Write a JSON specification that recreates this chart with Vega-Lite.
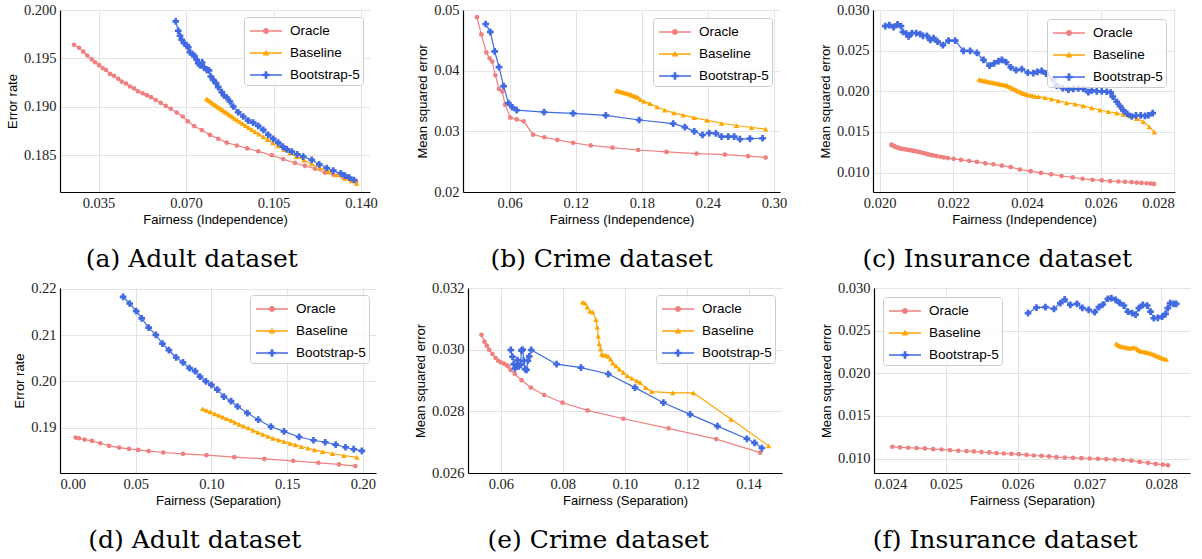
{
"$schema": "https://vega.github.io/schema/vega-lite/v6.json",
"background": "white",
"padding": {"left": 6, "top": 2, "right": 2, "bottom": 2},
"config": {
  "view": {"stroke": null},
  "axis": {"domain": true, "domainColor": "#000000", "domainWidth": 1.2, "ticks": false, "grid": true, "gridColor": "#e3e3e3", "gridWidth": 1, "labelFont": "Liberation Serif", "labelFontSize": 14.5, "labelColor": "#222222", "labelPadding": 4, "titleFont": "Liberation Sans", "titleFontSize": 13, "titleFontWeight": "normal", "titleColor": "#000000", "titlePadding": 4},
  "legend": {"title": null, "padding": 3, "rowPadding": 4, "symbolSize": 484, "symbolOpacity": 1, "symbolStrokeWidth": 0, "labelFont": "Liberation Sans", "labelFontSize": 13.5, "labelOffset": 21, "labelColor": "#000000", "fillColor": "rgba(255,255,255,0.8)", "strokeColor": "#cccccc", "cornerRadius": 3},
  "title": {"orient": "bottom", "frame": "bounds", "font": "DejaVu Serif", "fontSize": 25, "fontWeight": "normal", "color": "#000000", "offset": 20, "anchor": "middle"}
},
"datasets": {
"legend": [{"method": "Oracle"}, {"method": "Baseline"}, {"method": "Bootstrap-5"}],
"a": [
{"method":"Oracle","fair":0.0252,"err":0.1964},{"method":"Oracle","fair":0.0272,"err":0.1961},{"method":"Oracle","fair":0.0289,"err":0.1957},{"method":"Oracle","fair":0.0305,"err":0.1953},{"method":"Oracle","fair":0.0323,"err":0.1949},{"method":"Oracle","fair":0.0336,"err":0.1946},{"method":"Oracle","fair":0.0352,"err":0.1943},{"method":"Oracle","fair":0.0367,"err":0.1940},{"method":"Oracle","fair":0.0380,"err":0.1938},{"method":"Oracle","fair":0.0396,"err":0.1934},{"method":"Oracle","fair":0.0412,"err":0.1932},{"method":"Oracle","fair":0.0429,"err":0.1929},{"method":"Oracle","fair":0.0443,"err":0.1926},{"method":"Oracle","fair":0.0460,"err":0.1924},{"method":"Oracle","fair":0.0476,"err":0.1921},{"method":"Oracle","fair":0.0492,"err":0.1919},{"method":"Oracle","fair":0.0508,"err":0.1916},{"method":"Oracle","fair":0.0527,"err":0.1914},{"method":"Oracle","fair":0.0543,"err":0.1912},{"method":"Oracle","fair":0.0560,"err":0.1910},{"method":"Oracle","fair":0.0579,"err":0.1907},{"method":"Oracle","fair":0.0599,"err":0.1904},{"method":"Oracle","fair":0.0619,"err":0.1901},{"method":"Oracle","fair":0.0639,"err":0.1898},{"method":"Oracle","fair":0.0663,"err":0.1894},{"method":"Oracle","fair":0.0687,"err":0.1890},{"method":"Oracle","fair":0.0707,"err":0.1885},{"method":"Oracle","fair":0.0733,"err":0.1880},{"method":"Oracle","fair":0.0763,"err":0.1876},{"method":"Oracle","fair":0.0796,"err":0.1871},{"method":"Oracle","fair":0.0829,"err":0.1867},{"method":"Oracle","fair":0.0863,"err":0.1863},{"method":"Oracle","fair":0.0903,"err":0.1860},{"method":"Oracle","fair":0.0945,"err":0.1857},{"method":"Oracle","fair":0.0989,"err":0.1854},{"method":"Oracle","fair":0.1043,"err":0.1850},{"method":"Oracle","fair":0.1089,"err":0.1846},{"method":"Oracle","fair":0.1136,"err":0.1842},{"method":"Oracle","fair":0.1176,"err":0.1839},{"method":"Oracle","fair":0.1216,"err":0.1836},{"method":"Oracle","fair":0.1256,"err":0.1832},{"method":"Oracle","fair":0.1289,"err":0.1830},{"method":"Oracle","fair":0.1329,"err":0.1827},{"method":"Oracle","fair":0.1362,"err":0.1824},{"method":"Oracle","fair":0.1380,"err":0.1823},
{"method":"Baseline","fair":0.0783,"err":0.19082},{"method":"Baseline","fair":0.0789,"err":0.19069},{"method":"Baseline","fair":0.0796,"err":0.19058},{"method":"Baseline","fair":0.0803,"err":0.19044},{"method":"Baseline","fair":0.0809,"err":0.19034},{"method":"Baseline","fair":0.0816,"err":0.19020},{"method":"Baseline","fair":0.0823,"err":0.19010},{"method":"Baseline","fair":0.0829,"err":0.18996},{"method":"Baseline","fair":0.0836,"err":0.18986},{"method":"Baseline","fair":0.0843,"err":0.18972},{"method":"Baseline","fair":0.0849,"err":0.18962},{"method":"Baseline","fair":0.0856,"err":0.18948},{"method":"Baseline","fair":0.0863,"err":0.18937},{"method":"Baseline","fair":0.0871,"err":0.18924},{"method":"Baseline","fair":0.0879,"err":0.18910},{"method":"Baseline","fair":0.0887,"err":0.18896},{"method":"Baseline","fair":0.0896,"err":0.18879},{"method":"Baseline","fair":0.0905,"err":0.18862},{"method":"Baseline","fair":0.0916,"err":0.18844},{"method":"Baseline","fair":0.0927,"err":0.18827},{"method":"Baseline","fair":0.0939,"err":0.18806},{"method":"Baseline","fair":0.0951,"err":0.18786},{"method":"Baseline","fair":0.0964,"err":0.18765},{"method":"Baseline","fair":0.0977,"err":0.18741},{"method":"Baseline","fair":0.0992,"err":0.18717},{"method":"Baseline","fair":0.1009,"err":0.18689},{"method":"Baseline","fair":0.1027,"err":0.18661},{"method":"Baseline","fair":0.1047,"err":0.18627},{"method":"Baseline","fair":0.1068,"err":0.18596},{"method":"Baseline","fair":0.1092,"err":0.18558},{"method":"Baseline","fair":0.1116,"err":0.18523},{"method":"Baseline","fair":0.1142,"err":0.18485},{"method":"Baseline","fair":0.1172,"err":0.18448},{"method":"Baseline","fair":0.1202,"err":0.18410},{"method":"Baseline","fair":0.1236,"err":0.18368},{"method":"Baseline","fair":0.1269,"err":0.18330},{"method":"Baseline","fair":0.1302,"err":0.18296},{"method":"Baseline","fair":0.1336,"err":0.18261},{"method":"Baseline","fair":0.1362,"err":0.18234},{"method":"Baseline","fair":0.1382,"err":0.18210},
{"method":"Bootstrap-5","fair":0.0659,"err":0.19883},{"method":"Bootstrap-5","fair":0.0669,"err":0.19786},{"method":"Bootstrap-5","fair":0.0676,"err":0.19734},{"method":"Bootstrap-5","fair":0.0683,"err":0.19693},{"method":"Bootstrap-5","fair":0.0693,"err":0.19658},{"method":"Bootstrap-5","fair":0.0703,"err":0.19634},{"method":"Bootstrap-5","fair":0.0709,"err":0.19617},{"method":"Bootstrap-5","fair":0.0716,"err":0.19565},{"method":"Bootstrap-5","fair":0.0725,"err":0.19545},{"method":"Bootstrap-5","fair":0.0733,"err":0.19527},{"method":"Bootstrap-5","fair":0.0743,"err":0.19486},{"method":"Bootstrap-5","fair":0.0749,"err":0.19452},{"method":"Bootstrap-5","fair":0.0756,"err":0.19431},{"method":"Bootstrap-5","fair":0.0765,"err":0.19458},{"method":"Bootstrap-5","fair":0.0772,"err":0.19407},{"method":"Bootstrap-5","fair":0.0783,"err":0.19382},{"method":"Bootstrap-5","fair":0.0792,"err":0.19376},{"method":"Bootstrap-5","fair":0.0799,"err":0.19313},{"method":"Bootstrap-5","fair":0.0809,"err":0.19279},{"method":"Bootstrap-5","fair":0.0820,"err":0.19244},{"method":"Bootstrap-5","fair":0.0829,"err":0.19203},{"method":"Bootstrap-5","fair":0.0843,"err":0.19151},{"method":"Bootstrap-5","fair":0.0852,"err":0.19117},{"method":"Bootstrap-5","fair":0.0863,"err":0.19096},{"method":"Bootstrap-5","fair":0.0876,"err":0.19055},{"method":"Bootstrap-5","fair":0.0889,"err":0.19003},{"method":"Bootstrap-5","fair":0.0909,"err":0.18944},{"method":"Bootstrap-5","fair":0.0929,"err":0.18900},{"method":"Bootstrap-5","fair":0.0949,"err":0.18858},{"method":"Bootstrap-5","fair":0.0969,"err":0.18837},{"method":"Bootstrap-5","fair":0.0989,"err":0.18803},{"method":"Bootstrap-5","fair":0.1009,"err":0.18761},{"method":"Bootstrap-5","fair":0.1029,"err":0.18710},{"method":"Bootstrap-5","fair":0.1049,"err":0.18668},{"method":"Bootstrap-5","fair":0.1069,"err":0.18630},{"method":"Bootstrap-5","fair":0.1087,"err":0.18589},{"method":"Bootstrap-5","fair":0.1103,"err":0.18561},{"method":"Bootstrap-5","fair":0.1123,"err":0.18537},{"method":"Bootstrap-5","fair":0.1145,"err":0.18510},{"method":"Bootstrap-5","fair":0.1169,"err":0.18485},{"method":"Bootstrap-5","fair":0.1203,"err":0.18451},{"method":"Bootstrap-5","fair":0.1233,"err":0.18406},{"method":"Bootstrap-5","fair":0.1263,"err":0.18368},{"method":"Bootstrap-5","fair":0.1289,"err":0.18341},{"method":"Bootstrap-5","fair":0.1319,"err":0.18313},{"method":"Bootstrap-5","fair":0.1336,"err":0.18289},{"method":"Bootstrap-5","fair":0.1353,"err":0.18268},{"method":"Bootstrap-5","fair":0.1372,"err":0.18244}
],
"b": [
{"method":"Oracle","fair":0.0303,"err":0.04882},{"method":"Oracle","fair":0.0342,"err":0.04597},{"method":"Oracle","fair":0.0388,"err":0.04301},{"method":"Oracle","fair":0.0418,"err":0.04204},{"method":"Oracle","fair":0.0442,"err":0.04150},{"method":"Oracle","fair":0.0470,"err":0.03924},{"method":"Oracle","fair":0.0503,"err":0.03698},{"method":"Oracle","fair":0.0533,"err":0.03655},{"method":"Oracle","fair":0.0558,"err":0.03440},{"method":"Oracle","fair":0.0606,"err":0.03225},{"method":"Oracle","fair":0.0664,"err":0.03198},{"method":"Oracle","fair":0.0727,"err":0.03165},{"method":"Oracle","fair":0.0812,"err":0.02945},{"method":"Oracle","fair":0.0915,"err":0.02902},{"method":"Oracle","fair":0.1033,"err":0.02859},{"method":"Oracle","fair":0.1176,"err":0.02810},{"method":"Oracle","fair":0.1336,"err":0.02767},{"method":"Oracle","fair":0.1533,"err":0.02730},{"method":"Oracle","fair":0.1767,"err":0.02692},{"method":"Oracle","fair":0.2024,"err":0.02660},{"method":"Oracle","fair":0.2297,"err":0.02633},{"method":"Oracle","fair":0.2554,"err":0.02617},{"method":"Oracle","fair":0.2766,"err":0.02590},{"method":"Oracle","fair":0.2924,"err":0.02568},
{"method":"Baseline","fair":0.1570,"err":0.03671},{"method":"Baseline","fair":0.1585,"err":0.03666},{"method":"Baseline","fair":0.1600,"err":0.03655},{"method":"Baseline","fair":0.1615,"err":0.03650},{"method":"Baseline","fair":0.1630,"err":0.03644},{"method":"Baseline","fair":0.1645,"err":0.03634},{"method":"Baseline","fair":0.1661,"err":0.03628},{"method":"Baseline","fair":0.1676,"err":0.03617},{"method":"Baseline","fair":0.1691,"err":0.03612},{"method":"Baseline","fair":0.1706,"err":0.03601},{"method":"Baseline","fair":0.1721,"err":0.03590},{"method":"Baseline","fair":0.1736,"err":0.03580},{"method":"Baseline","fair":0.1751,"err":0.03569},{"method":"Baseline","fair":0.1767,"err":0.03558},{"method":"Baseline","fair":0.1788,"err":0.03521},{"method":"Baseline","fair":0.1821,"err":0.03494},{"method":"Baseline","fair":0.1873,"err":0.03456},{"method":"Baseline","fair":0.1939,"err":0.03402},{"method":"Baseline","fair":0.2009,"err":0.03348},{"method":"Baseline","fair":0.2091,"err":0.03305},{"method":"Baseline","fair":0.2176,"err":0.03268},{"method":"Baseline","fair":0.2276,"err":0.03225},{"method":"Baseline","fair":0.2394,"err":0.03182},{"method":"Baseline","fair":0.2524,"err":0.03133},{"method":"Baseline","fair":0.2660,"err":0.03096},{"method":"Baseline","fair":0.2797,"err":0.03063},{"method":"Baseline","fair":0.2924,"err":0.03036},
{"method":"Bootstrap-5","fair":0.0382,"err":0.04769},{"method":"Bootstrap-5","fair":0.0424,"err":0.04640},{"method":"Bootstrap-5","fair":0.0464,"err":0.04317},{"method":"Bootstrap-5","fair":0.0503,"err":0.04059},{"method":"Bootstrap-5","fair":0.0545,"err":0.03746},{"method":"Bootstrap-5","fair":0.0588,"err":0.03467},{"method":"Bootstrap-5","fair":0.0624,"err":0.03397},{"method":"Bootstrap-5","fair":0.0664,"err":0.03348},{"method":"Bootstrap-5","fair":0.0912,"err":0.03316},{"method":"Bootstrap-5","fair":0.1176,"err":0.03295},{"method":"Bootstrap-5","fair":0.1473,"err":0.03262},{"method":"Bootstrap-5","fair":0.1776,"err":0.03187},{"method":"Bootstrap-5","fair":0.2085,"err":0.03128},{"method":"Bootstrap-5","fair":0.2191,"err":0.03069},{"method":"Bootstrap-5","fair":0.2276,"err":0.02999},{"method":"Bootstrap-5","fair":0.2351,"err":0.02940},{"method":"Bootstrap-5","fair":0.2412,"err":0.02972},{"method":"Bootstrap-5","fair":0.2473,"err":0.02966},{"method":"Bootstrap-5","fair":0.2524,"err":0.02913},{"method":"Bootstrap-5","fair":0.2585,"err":0.02913},{"method":"Bootstrap-5","fair":0.2639,"err":0.02913},{"method":"Bootstrap-5","fair":0.2691,"err":0.02870},{"method":"Bootstrap-5","fair":0.2782,"err":0.02880},{"method":"Bootstrap-5","fair":0.2897,"err":0.02886}
],
"c": [
{"method":"Oracle","fair":0.02032,"err":0.01342},{"method":"Oracle","fair":0.02035,"err":0.01333},{"method":"Oracle","fair":0.02039,"err":0.01325},{"method":"Oracle","fair":0.02042,"err":0.01316},{"method":"Oracle","fair":0.02047,"err":0.01308},{"method":"Oracle","fair":0.02052,"err":0.01304},{"method":"Oracle","fair":0.02056,"err":0.01295},{"method":"Oracle","fair":0.02061,"err":0.01291},{"method":"Oracle","fair":0.02067,"err":0.01287},{"method":"Oracle","fair":0.02072,"err":0.01283},{"method":"Oracle","fair":0.02078,"err":0.01278},{"method":"Oracle","fair":0.02083,"err":0.01274},{"method":"Oracle","fair":0.02089,"err":0.01270},{"method":"Oracle","fair":0.02094,"err":0.01266},{"method":"Oracle","fair":0.02099,"err":0.01261},{"method":"Oracle","fair":0.02106,"err":0.01253},{"method":"Oracle","fair":0.02112,"err":0.01249},{"method":"Oracle","fair":0.02118,"err":0.01240},{"method":"Oracle","fair":0.02125,"err":0.01232},{"method":"Oracle","fair":0.02132,"err":0.01223},{"method":"Oracle","fair":0.02139,"err":0.01215},{"method":"Oracle","fair":0.02146,"err":0.01211},{"method":"Oracle","fair":0.02155,"err":0.01202},{"method":"Oracle","fair":0.02165,"err":0.01194},{"method":"Oracle","fair":0.02174,"err":0.01185},{"method":"Oracle","fair":0.02185,"err":0.01177},{"method":"Oracle","fair":0.02201,"err":0.01168},{"method":"Oracle","fair":0.02221,"err":0.01156},{"method":"Oracle","fair":0.02243,"err":0.01143},{"method":"Oracle","fair":0.02264,"err":0.01130},{"method":"Oracle","fair":0.02287,"err":0.01113},{"method":"Oracle","fair":0.02309,"err":0.01101},{"method":"Oracle","fair":0.02332,"err":0.01084},{"method":"Oracle","fair":0.02356,"err":0.01067},{"method":"Oracle","fair":0.02381,"err":0.01037},{"method":"Oracle","fair":0.02410,"err":0.01016},{"method":"Oracle","fair":0.02438,"err":0.00995},{"method":"Oracle","fair":0.02466,"err":0.00978},{"method":"Oracle","fair":0.02494,"err":0.00957},{"method":"Oracle","fair":0.02524,"err":0.00940},{"method":"Oracle","fair":0.02551,"err":0.00923},{"method":"Oracle","fair":0.02578,"err":0.00910},{"method":"Oracle","fair":0.02603,"err":0.00902},{"method":"Oracle","fair":0.02626,"err":0.00893},{"method":"Oracle","fair":0.02648,"err":0.00889},{"method":"Oracle","fair":0.02666,"err":0.00885},{"method":"Oracle","fair":0.02684,"err":0.00881},{"method":"Oracle","fair":0.02698,"err":0.00876},{"method":"Oracle","fair":0.02711,"err":0.00872},{"method":"Oracle","fair":0.02725,"err":0.00868},{"method":"Oracle","fair":0.02736,"err":0.00864},{"method":"Oracle","fair":0.02745,"err":0.00860},
{"method":"Baseline","fair":0.02270,"err":0.02146},{"method":"Baseline","fair":0.02275,"err":0.02137},{"method":"Baseline","fair":0.02279,"err":0.02133},{"method":"Baseline","fair":0.02284,"err":0.02129},{"method":"Baseline","fair":0.02288,"err":0.02124},{"method":"Baseline","fair":0.02293,"err":0.02120},{"method":"Baseline","fair":0.02297,"err":0.02116},{"method":"Baseline","fair":0.02302,"err":0.02112},{"method":"Baseline","fair":0.02306,"err":0.02107},{"method":"Baseline","fair":0.02311,"err":0.02103},{"method":"Baseline","fair":0.02316,"err":0.02099},{"method":"Baseline","fair":0.02320,"err":0.02095},{"method":"Baseline","fair":0.02325,"err":0.02091},{"method":"Baseline","fair":0.02329,"err":0.02086},{"method":"Baseline","fair":0.02334,"err":0.02082},{"method":"Baseline","fair":0.02338,"err":0.02078},{"method":"Baseline","fair":0.02343,"err":0.02074},{"method":"Baseline","fair":0.02347,"err":0.02065},{"method":"Baseline","fair":0.02352,"err":0.02057},{"method":"Baseline","fair":0.02356,"err":0.02048},{"method":"Baseline","fair":0.02361,"err":0.02036},{"method":"Baseline","fair":0.02365,"err":0.02027},{"method":"Baseline","fair":0.02370,"err":0.02019},{"method":"Baseline","fair":0.02374,"err":0.02006},{"method":"Baseline","fair":0.02379,"err":0.01997},{"method":"Baseline","fair":0.02383,"err":0.01989},{"method":"Baseline","fair":0.02388,"err":0.01981},{"method":"Baseline","fair":0.02392,"err":0.01972},{"method":"Baseline","fair":0.02397,"err":0.01964},{"method":"Baseline","fair":0.02402,"err":0.01955},{"method":"Baseline","fair":0.02409,"err":0.01951},{"method":"Baseline","fair":0.02415,"err":0.01947},{"method":"Baseline","fair":0.02422,"err":0.01938},{"method":"Baseline","fair":0.02431,"err":0.01934},{"method":"Baseline","fair":0.02449,"err":0.01921},{"method":"Baseline","fair":0.02467,"err":0.01904},{"method":"Baseline","fair":0.02485,"err":0.01883},{"method":"Baseline","fair":0.02508,"err":0.01858},{"method":"Baseline","fair":0.02531,"err":0.01841},{"method":"Baseline","fair":0.02553,"err":0.01820},{"method":"Baseline","fair":0.02576,"err":0.01794},{"method":"Baseline","fair":0.02598,"err":0.01769},{"method":"Baseline","fair":0.02621,"err":0.01748},{"method":"Baseline","fair":0.02644,"err":0.01731},{"method":"Baseline","fair":0.02662,"err":0.01714},{"method":"Baseline","fair":0.02680,"err":0.01693},{"method":"Baseline","fair":0.02698,"err":0.01663},{"method":"Baseline","fair":0.02716,"err":0.01625},{"method":"Baseline","fair":0.02732,"err":0.01562},{"method":"Baseline","fair":0.02746,"err":0.01498},
{"method":"Bootstrap-5","fair":0.020154,"err":0.028012},{"method":"Bootstrap-5","fair":0.020262,"err":0.028139},{"method":"Bootstrap-5","fair":0.020380,"err":0.027885},{"method":"Bootstrap-5","fair":0.020488,"err":0.028223},{"method":"Bootstrap-5","fair":0.020579,"err":0.028012},{"method":"Bootstrap-5","fair":0.020633,"err":0.027293},{"method":"Bootstrap-5","fair":0.020723,"err":0.027081},{"method":"Bootstrap-5","fair":0.020786,"err":0.026743},{"method":"Bootstrap-5","fair":0.020877,"err":0.027166},{"method":"Bootstrap-5","fair":0.020994,"err":0.027166},{"method":"Bootstrap-5","fair":0.021103,"err":0.027039},{"method":"Bootstrap-5","fair":0.021175,"err":0.026828},{"method":"Bootstrap-5","fair":0.021284,"err":0.026828},{"method":"Bootstrap-5","fair":0.021374,"err":0.026320},{"method":"Bootstrap-5","fair":0.021464,"err":0.026532},{"method":"Bootstrap-5","fair":0.021573,"err":0.026108},{"method":"Bootstrap-5","fair":0.021718,"err":0.025685},{"method":"Bootstrap-5","fair":0.021871,"err":0.026235},{"method":"Bootstrap-5","fair":0.022052,"err":0.026235},{"method":"Bootstrap-5","fair":0.022278,"err":0.024966},{"method":"Bootstrap-5","fair":0.022459,"err":0.024966},{"method":"Bootstrap-5","fair":0.022640,"err":0.024712},{"method":"Bootstrap-5","fair":0.022820,"err":0.023867},{"method":"Bootstrap-5","fair":0.022983,"err":0.023147},{"method":"Bootstrap-5","fair":0.023110,"err":0.023443},{"method":"Bootstrap-5","fair":0.023227,"err":0.023697},{"method":"Bootstrap-5","fair":0.023318,"err":0.023867},{"method":"Bootstrap-5","fair":0.023435,"err":0.023570},{"method":"Bootstrap-5","fair":0.023562,"err":0.022935},{"method":"Bootstrap-5","fair":0.023706,"err":0.022596},{"method":"Bootstrap-5","fair":0.023860,"err":0.022723},{"method":"Bootstrap-5","fair":0.024023,"err":0.022300},{"method":"Bootstrap-5","fair":0.024176,"err":0.022221},{"method":"Bootstrap-5","fair":0.024284,"err":0.022386},{"method":"Bootstrap-5","fair":0.024403,"err":0.022513},{"method":"Bootstrap-5","fair":0.024520,"err":0.022170},{"method":"Bootstrap-5","fair":0.024718,"err":0.021460},{"method":"Bootstrap-5","fair":0.024810,"err":0.020698},{"method":"Bootstrap-5","fair":0.024973,"err":0.020394},{"method":"Bootstrap-5","fair":0.025125,"err":0.020191},{"method":"Bootstrap-5","fair":0.025260,"err":0.020297},{"method":"Bootstrap-5","fair":0.025396,"err":0.020349},{"method":"Bootstrap-5","fair":0.025532,"err":0.020297},{"method":"Bootstrap-5","fair":0.025667,"err":0.019900},{"method":"Bootstrap-5","fair":0.025759,"err":0.020102},{"method":"Bootstrap-5","fair":0.025895,"err":0.019975},{"method":"Bootstrap-5","fair":0.026031,"err":0.019975},{"method":"Bootstrap-5","fair":0.026166,"err":0.019937},{"method":"Bootstrap-5","fair":0.026275,"err":0.019848},{"method":"Bootstrap-5","fair":0.026329,"err":0.019340},{"method":"Bootstrap-5","fair":0.026437,"err":0.018706},{"method":"Bootstrap-5","fair":0.026527,"err":0.018160},{"method":"Bootstrap-5","fair":0.026616,"err":0.017653},{"method":"Bootstrap-5","fair":0.026725,"err":0.017221},{"method":"Bootstrap-5","fair":0.026844,"err":0.016891},{"method":"Bootstrap-5","fair":0.026961,"err":0.017018},{"method":"Bootstrap-5","fair":0.027088,"err":0.017018},{"method":"Bootstrap-5","fair":0.027205,"err":0.016967},{"method":"Bootstrap-5","fair":0.027295,"err":0.017018},{"method":"Bootstrap-5","fair":0.027414,"err":0.017309}
],
"d": [
{"method":"Oracle","fair":0.01037,"err":0.18785},{"method":"Oracle","fair":0.01253,"err":0.18771},{"method":"Oracle","fair":0.0162,"err":0.18742},{"method":"Oracle","fair":0.02117,"err":0.18714},{"method":"Oracle","fair":0.02657,"err":0.18663},{"method":"Oracle","fair":0.0324,"err":0.18606},{"method":"Oracle","fair":0.0391,"err":0.18570},{"method":"Oracle","fair":0.04558,"err":0.18542},{"method":"Oracle","fair":0.05162,"err":0.18520},{"method":"Oracle","fair":0.05854,"err":0.18492},{"method":"Oracle","fair":0.06826,"err":0.18463},{"method":"Oracle","fair":0.08122,"err":0.18434},{"method":"Oracle","fair":0.09677,"err":0.18406},{"method":"Oracle","fair":0.11513,"err":0.18363},{"method":"Oracle","fair":0.1350,"err":0.18327},{"method":"Oracle","fair":0.1540,"err":0.18284},{"method":"Oracle","fair":0.17064,"err":0.18241},{"method":"Oracle","fair":0.18425,"err":0.18205},{"method":"Oracle","fair":0.19505,"err":0.18169},
{"method":"Baseline","fair":0.09418,"err":0.19408},{"method":"Baseline","fair":0.09677,"err":0.19372},{"method":"Baseline","fair":0.09936,"err":0.19344},{"method":"Baseline","fair":0.10217,"err":0.19301},{"method":"Baseline","fair":0.10498,"err":0.19265},{"method":"Baseline","fair":0.10757,"err":0.19229},{"method":"Baseline","fair":0.11016,"err":0.19193},{"method":"Baseline","fair":0.11297,"err":0.19157},{"method":"Baseline","fair":0.11556,"err":0.19114},{"method":"Baseline","fair":0.11837,"err":0.19072},{"method":"Baseline","fair":0.12118,"err":0.19036},{"method":"Baseline","fair":0.12442,"err":0.18993},{"method":"Baseline","fair":0.12744,"err":0.18943},{"method":"Baseline","fair":0.13068,"err":0.18900},{"method":"Baseline","fair":0.13392,"err":0.18857},{"method":"Baseline","fair":0.13738,"err":0.18814},{"method":"Baseline","fair":0.14062,"err":0.18771},{"method":"Baseline","fair":0.14429,"err":0.18735},{"method":"Baseline","fair":0.14796,"err":0.18699},{"method":"Baseline","fair":0.15185,"err":0.18663},{"method":"Baseline","fair":0.15552,"err":0.18628},{"method":"Baseline","fair":0.15941,"err":0.18592},{"method":"Baseline","fair":0.16373,"err":0.18556},{"method":"Baseline","fair":0.16805,"err":0.18520},{"method":"Baseline","fair":0.17345,"err":0.18484},{"method":"Baseline","fair":0.17993,"err":0.18441},{"method":"Baseline","fair":0.18749,"err":0.18398},{"method":"Baseline","fair":0.19613,"err":0.18356},
{"method":"Bootstrap-5","fair":0.04169,"err":0.21828},{"method":"Bootstrap-5","fair":0.04601,"err":0.21685},{"method":"Bootstrap-5","fair":0.05033,"err":0.2152},{"method":"Bootstrap-5","fair":0.054,"err":0.21363},{"method":"Bootstrap-5","fair":0.05854,"err":0.21162},{"method":"Bootstrap-5","fair":0.06329,"err":0.21005},{"method":"Bootstrap-5","fair":0.06761,"err":0.20819},{"method":"Bootstrap-5","fair":0.07193,"err":0.20675},{"method":"Bootstrap-5","fair":0.07668,"err":0.20518},{"method":"Bootstrap-5","fair":0.08122,"err":0.20410},{"method":"Bootstrap-5","fair":0.08554,"err":0.20289},{"method":"Bootstrap-5","fair":0.08921,"err":0.20224},{"method":"Bootstrap-5","fair":0.09245,"err":0.20102},{"method":"Bootstrap-5","fair":0.09634,"err":0.20002},{"method":"Bootstrap-5","fair":0.10001,"err":0.19924},{"method":"Bootstrap-5","fair":0.1039,"err":0.19823},{"method":"Bootstrap-5","fair":0.10822,"err":0.19673},{"method":"Bootstrap-5","fair":0.11297,"err":0.19573},{"method":"Bootstrap-5","fair":0.11729,"err":0.19458},{"method":"Bootstrap-5","fair":0.12377,"err":0.19315},{"method":"Bootstrap-5","fair":0.1309,"err":0.19172},{"method":"Bootstrap-5","fair":0.13932,"err":0.19021},{"method":"Bootstrap-5","fair":0.14796,"err":0.18921},{"method":"Bootstrap-5","fair":0.1579,"err":0.18799},{"method":"Bootstrap-5","fair":0.1674,"err":0.18728},{"method":"Bootstrap-5","fair":0.17518,"err":0.18685},{"method":"Bootstrap-5","fair":0.18209,"err":0.18635},{"method":"Bootstrap-5","fair":0.18857,"err":0.18577},{"method":"Bootstrap-5","fair":0.19397,"err":0.18534},{"method":"Bootstrap-5","fair":0.19937,"err":0.18499}
],
"e": [
{"method":"Oracle","fair":0.05375,"err":0.03048},{"method":"Oracle","fair":0.05472,"err":0.03026},{"method":"Oracle","fair":0.05547,"err":0.03013},{"method":"Oracle","fair":0.05623,"err":0.03000},{"method":"Oracle","fair":0.0573,"err":0.02986},{"method":"Oracle","fair":0.05828,"err":0.02973},{"method":"Oracle","fair":0.05914,"err":0.02964},{"method":"Oracle","fair":0.06,"err":0.02959},{"method":"Oracle","fair":0.06097,"err":0.02955},{"method":"Oracle","fair":0.06183,"err":0.02950},{"method":"Oracle","fair":0.06237,"err":0.02946},{"method":"Oracle","fair":0.06313,"err":0.02934},{"method":"Oracle","fair":0.06453,"err":0.02921},{"method":"Oracle","fair":0.06668,"err":0.02901},{"method":"Oracle","fair":0.0697,"err":0.02877},{"method":"Oracle","fair":0.07401,"err":0.02853},{"method":"Oracle","fair":0.07994,"err":0.02828},{"method":"Oracle","fair":0.08803,"err":0.02803},{"method":"Oracle","fair":0.09956,"err":0.02776},{"method":"Oracle","fair":0.11412,"err":0.02745},{"method":"Oracle","fair":0.12953,"err":0.02710},{"method":"Oracle","fair":0.14376,"err":0.02666},
{"method":"Baseline","fair":0.086422,"err":0.031544},{"method":"Baseline","fair":0.087166,"err":0.031512},{"method":"Baseline","fair":0.08791,"err":0.031381},{"method":"Baseline","fair":0.088783,"err":0.031251},{"method":"Baseline","fair":0.089656,"err":0.031218},{"method":"Baseline","fair":0.090723,"err":0.030977},{"method":"Baseline","fair":0.091144,"err":0.030729},{"method":"Baseline","fair":0.091467,"err":0.030436},{"method":"Baseline","fair":0.09179,"err":0.030185},{"method":"Baseline","fair":0.092243,"err":0.030022},{"method":"Baseline","fair":0.092566,"err":0.029859},{"method":"Baseline","fair":0.093084,"err":0.029826},{"method":"Baseline","fair":0.093957,"err":0.029826},{"method":"Baseline","fair":0.094701,"err":0.029784},{"method":"Baseline","fair":0.095477,"err":0.029695},{"method":"Baseline","fair":0.096124,"err":0.029565},{"method":"Baseline","fair":0.097191,"err":0.029477},{"method":"Baseline","fair":0.098258,"err":0.029369},{"method":"Baseline","fair":0.099552,"err":0.029262},{"method":"Baseline","fair":0.100845,"err":0.029151},{"method":"Baseline","fair":0.102268,"err":0.029076},{"method":"Baseline","fair":0.103885,"err":0.028988},{"method":"Baseline","fair":0.104953,"err":0.028936},{"method":"Baseline","fair":0.10679,"err":0.02877},{"method":"Baseline","fair":0.10873,"err":0.02864},{"method":"Baseline","fair":0.11552,"err":0.0286},{"method":"Baseline","fair":0.1222,"err":0.0286},{"method":"Baseline","fair":0.13438,"err":0.02774},{"method":"Baseline","fair":0.14646,"err":0.02688},
{"method":"Bootstrap-5","fair":0.06323,"err":0.02999},{"method":"Bootstrap-5","fair":0.06377,"err":0.02977},{"method":"Bootstrap-5","fair":0.0642,"err":0.02953},{"method":"Bootstrap-5","fair":0.06453,"err":0.02939},{"method":"Bootstrap-5","fair":0.06507,"err":0.02946},{"method":"Bootstrap-5","fair":0.06539,"err":0.02966},{"method":"Bootstrap-5","fair":0.06582,"err":0.02946},{"method":"Bootstrap-5","fair":0.06636,"err":0.02951},{"method":"Bootstrap-5","fair":0.06668,"err":0.02997},{"method":"Bootstrap-5","fair":0.06701,"err":0.03000},{"method":"Bootstrap-5","fair":0.06744,"err":0.02964},{"method":"Bootstrap-5","fair":0.06787,"err":0.02937},{"method":"Bootstrap-5","fair":0.0683,"err":0.02934},{"method":"Bootstrap-5","fair":0.06873,"err":0.02964},{"method":"Bootstrap-5","fair":0.06916,"err":0.02978},{"method":"Bootstrap-5","fair":0.06981,"err":0.02999},{"method":"Bootstrap-5","fair":0.078,"err":0.02953},{"method":"Bootstrap-5","fair":0.08587,"err":0.02942},{"method":"Bootstrap-5","fair":0.09471,"err":0.02921},{"method":"Bootstrap-5","fair":0.10334,"err":0.02877},{"method":"Bootstrap-5","fair":0.1125,"err":0.02828},{"method":"Bootstrap-5","fair":0.12112,"err":0.0279},{"method":"Bootstrap-5","fair":0.12996,"err":0.02752},{"method":"Bootstrap-5","fair":0.13945,"err":0.02711},{"method":"Bootstrap-5","fair":0.14193,"err":0.02698},{"method":"Bootstrap-5","fair":0.1443,"err":0.02681}
],
"f": [
{"method":"Oracle","fair":0.024255,"err":0.01138},{"method":"Oracle","fair":0.024362,"err":0.0113},{"method":"Oracle","fair":0.024477,"err":0.01126},{"method":"Oracle","fair":0.024593,"err":0.01122},{"method":"Oracle","fair":0.024709,"err":0.01118},{"method":"Oracle","fair":0.024825,"err":0.0111},{"method":"Oracle","fair":0.024941,"err":0.01106},{"method":"Oracle","fair":0.025057,"err":0.01098},{"method":"Oracle","fair":0.025173,"err":0.01091},{"method":"Oracle","fair":0.025289,"err":0.01087},{"method":"Oracle","fair":0.025391,"err":0.01083},{"method":"Oracle","fair":0.025497,"err":0.01075},{"method":"Oracle","fair":0.025604,"err":0.01071},{"method":"Oracle","fair":0.025706,"err":0.01063},{"method":"Oracle","fair":0.025808,"err":0.01059},{"method":"Oracle","fair":0.025914,"err":0.01055},{"method":"Oracle","fair":0.026016,"err":0.01051},{"method":"Oracle","fair":0.026123,"err":0.01043},{"method":"Oracle","fair":0.026225,"err":0.01035},{"method":"Oracle","fair":0.026331,"err":0.01031},{"method":"Oracle","fair":0.026438,"err":0.01024},{"method":"Oracle","fair":0.02654,"err":0.01016},{"method":"Oracle","fair":0.026656,"err":0.01012},{"method":"Oracle","fair":0.026772,"err":0.01008},{"method":"Oracle","fair":0.026888,"err":0.01004},{"method":"Oracle","fair":0.027003,"err":0.01},{"method":"Oracle","fair":0.027119,"err":0.00996},{"method":"Oracle","fair":0.027235,"err":0.00992},{"method":"Oracle","fair":0.027351,"err":0.00988},{"method":"Oracle","fair":0.027467,"err":0.00984},{"method":"Oracle","fair":0.027583,"err":0.00976},{"method":"Oracle","fair":0.027699,"err":0.0096},{"method":"Oracle","fair":0.027815,"err":0.00949},{"method":"Oracle","fair":0.027921,"err":0.00937},{"method":"Oracle","fair":0.028023,"err":0.00929},{"method":"Oracle","fair":0.028093,"err":0.00921},
{"method":"Baseline","fair":0.027374,"err":0.02349},{"method":"Baseline","fair":0.027397,"err":0.02333},{"method":"Baseline","fair":0.02742,"err":0.02321},{"method":"Baseline","fair":0.027444,"err":0.02314},{"method":"Baseline","fair":0.027467,"err":0.0231},{"method":"Baseline","fair":0.02749,"err":0.02306},{"method":"Baseline","fair":0.027513,"err":0.02302},{"method":"Baseline","fair":0.027537,"err":0.02298},{"method":"Baseline","fair":0.02756,"err":0.02294},{"method":"Baseline","fair":0.027583,"err":0.02298},{"method":"Baseline","fair":0.027606,"err":0.02302},{"method":"Baseline","fair":0.027629,"err":0.02302},{"method":"Baseline","fair":0.027652,"err":0.02294},{"method":"Baseline","fair":0.027676,"err":0.02278},{"method":"Baseline","fair":0.027699,"err":0.02266},{"method":"Baseline","fair":0.027722,"err":0.02258},{"method":"Baseline","fair":0.027745,"err":0.02254},{"method":"Baseline","fair":0.027768,"err":0.0225},{"method":"Baseline","fair":0.027791,"err":0.02246},{"method":"Baseline","fair":0.027815,"err":0.02243},{"method":"Baseline","fair":0.027838,"err":0.02235},{"method":"Baseline","fair":0.027861,"err":0.02231},{"method":"Baseline","fair":0.027884,"err":0.02223},{"method":"Baseline","fair":0.027907,"err":0.02215},{"method":"Baseline","fair":0.027931,"err":0.02207},{"method":"Baseline","fair":0.027954,"err":0.02199},{"method":"Baseline","fair":0.027977,"err":0.02191},{"method":"Baseline","fair":0.028,"err":0.02183},{"method":"Baseline","fair":0.028023,"err":0.02175},{"method":"Baseline","fair":0.028046,"err":0.02168},{"method":"Baseline","fair":0.02807,"err":0.02164},
{"method":"Bootstrap-5","fair":0.026145,"err":0.027045},{"method":"Bootstrap-5","fair":0.026262,"err":0.027708},{"method":"Bootstrap-5","fair":0.026387,"err":0.027755},{"method":"Bootstrap-5","fair":0.026506,"err":0.027554},{"method":"Bootstrap-5","fair":0.026595,"err":0.028228},{"method":"Bootstrap-5","fair":0.026655,"err":0.028654},{"method":"Bootstrap-5","fair":0.026734,"err":0.028027},{"method":"Bootstrap-5","fair":0.026826,"err":0.028146},{"method":"Bootstrap-5","fair":0.026901,"err":0.027672},{"method":"Bootstrap-5","fair":0.026989,"err":0.027435},{"method":"Bootstrap-5","fair":0.027072,"err":0.027163},{"method":"Bootstrap-5","fair":0.027132,"err":0.027755},{"method":"Bootstrap-5","fair":0.027187,"err":0.028063},{"method":"Bootstrap-5","fair":0.027257,"err":0.028737},{"method":"Bootstrap-5","fair":0.027304,"err":0.02882},{"method":"Bootstrap-5","fair":0.027364,"err":0.028619},{"method":"Bootstrap-5","fair":0.027419,"err":0.028264},{"method":"Bootstrap-5","fair":0.027479,"err":0.027944},{"method":"Bootstrap-5","fair":0.027535,"err":0.027234},{"method":"Bootstrap-5","fair":0.027596,"err":0.027045},{"method":"Bootstrap-5","fair":0.027642,"err":0.026879},{"method":"Bootstrap-5","fair":0.027688,"err":0.027637},{"method":"Bootstrap-5","fair":0.027743,"err":0.028027},{"method":"Bootstrap-5","fair":0.027804,"err":0.027944},{"method":"Bootstrap-5","fair":0.02785,"err":0.027234},{"method":"Bootstrap-5","fair":0.027896,"err":0.026453},{"method":"Bootstrap-5","fair":0.027952,"err":0.026489},{"method":"Bootstrap-5","fair":0.028013,"err":0.026642},{"method":"Bootstrap-5","fair":0.028059,"err":0.026962},{"method":"Bootstrap-5","fair":0.028091,"err":0.027637},{"method":"Bootstrap-5","fair":0.028124,"err":0.028228},{"method":"Bootstrap-5","fair":0.02817,"err":0.028146},{"method":"Bootstrap-5","fair":0.028208,"err":0.028146}
]
},
"spacing": 8,
"bounds": "full",
"resolve": {"scale": {"color": "independent", "shape": "independent"}, "legend": {"color": "independent", "shape": "independent"}},
"vconcat": [
{"hconcat": [
{"width": 310, "height": 182, "data": {"name": "a"}, "title": "(a) Adult dataset",
 "encoding": {"x": {"field": "fair", "type": "quantitative", "title": "Fairness (Independence)", "scale": {"domain": [0.0196, 0.1436], "nice": false, "zero": false}, "axis": {"values": [0.035, 0.07, 0.105, 0.14], "format": ".3f"}},
  "y": {"field": "err", "type": "quantitative", "title": "Error rate", "scale": {"domain": [0.1812, 0.2], "nice": false, "zero": false}, "axis": {"values": [0.185, 0.19, 0.195, 0.2], "format": ".3f"}},
  "order": {"value": null}},
 "layer": [
  {"transform": [{"filter": "datum.method === 'Oracle'"}], "mark": {"type": "line", "color": "#f08080", "strokeWidth": 1.2, "point": {"filled": true, "shape": "circle", "size": 22, "color": "#f08080"}}},
  {"transform": [{"filter": "datum.method === 'Baseline'"}], "mark": {"type": "line", "color": "#ffa500", "strokeWidth": 1.2, "point": {"filled": true, "shape": "triangle-up", "size": 30, "color": "#ffa500"}}},
  {"transform": [{"filter": "datum.method === 'Bootstrap-5'"}], "mark": {"type": "line", "color": "#4169e1", "strokeWidth": 1.2, "point": {"filled": true, "shape": "cross", "size": 45, "color": "#4169e1"}}},
  {"data": {"name": "legend"}, "mark": {"type": "point", "filled": true, "opacity": 0, "size": 484},
   "encoding": {"x": {"value": 0}, "y": {"value": 0},
    "color": {"field": "method", "type": "nominal", "scale": {"domain": ["Oracle", "Baseline", "Bootstrap-5"], "range": ["#f08080", "#ffa500", "#4169e1"]}, "legend": {"orient": "top-right", "offset": 7}},
    "shape": {"field": "method", "type": "nominal", "scale": {"domain": ["Oracle", "Baseline", "Bootstrap-5"], "range": ["M-0.727,-0.064H2.18V0.064H-0.727Z M0.457,0A0.27,0.27 0 1,1 0.997,0A0.27,0.27 0 1,1 0.457,0Z", "M-0.727,-0.064H2.18V0.064H-0.727Z M0.727,-0.3L1.027,0.22L0.427,0.22Z", "M-0.727,-0.064H2.18V0.064H-0.727Z M0.607,-0.33H0.847V-0.12H1.057V0.12H0.847V0.33H0.607V0.12H0.397V-0.12H0.607Z"]}, "legend": {"orient": "top-right", "offset": 7}}}}
 ]},
{"width": 317, "height": 182, "data": {"name": "b"}, "title": "(b) Crime dataset",
 "encoding": {"x": {"field": "fair", "type": "quantitative", "title": "Fairness (Independence)", "scale": {"domain": [0.0176, 0.3055], "nice": false, "zero": false}, "axis": {"values": [0.06, 0.12, 0.18, 0.24, 0.3], "format": ".2f"}},
  "y": {"field": "err", "type": "quantitative", "title": "Mean squared error", "scale": {"domain": [0.02, 0.05], "nice": false, "zero": false}, "axis": {"values": [0.02, 0.03, 0.04, 0.05], "format": ".2f"}},
  "order": {"value": null}},
 "layer": [
  {"transform": [{"filter": "datum.method === 'Oracle'"}], "mark": {"type": "line", "color": "#f08080", "strokeWidth": 1.2, "point": {"filled": true, "shape": "circle", "size": 22, "color": "#f08080"}}},
  {"transform": [{"filter": "datum.method === 'Baseline'"}], "mark": {"type": "line", "color": "#ffa500", "strokeWidth": 1.2, "point": {"filled": true, "shape": "triangle-up", "size": 30, "color": "#ffa500"}}},
  {"transform": [{"filter": "datum.method === 'Bootstrap-5'"}], "mark": {"type": "line", "color": "#4169e1", "strokeWidth": 1.2, "point": {"filled": true, "shape": "cross", "size": 45, "color": "#4169e1"}}},
  {"data": {"name": "legend"}, "mark": {"type": "point", "filled": true, "opacity": 0, "size": 484},
   "encoding": {"x": {"value": 0}, "y": {"value": 0},
    "color": {"field": "method", "type": "nominal", "scale": {"domain": ["Oracle", "Baseline", "Bootstrap-5"], "range": ["#f08080", "#ffa500", "#4169e1"]}, "legend": {"orient": "top-right", "offset": 8}},
    "shape": {"field": "method", "type": "nominal", "scale": {"domain": ["Oracle", "Baseline", "Bootstrap-5"], "range": ["M-0.727,-0.064H2.18V0.064H-0.727Z M0.457,0A0.27,0.27 0 1,1 0.997,0A0.27,0.27 0 1,1 0.457,0Z", "M-0.727,-0.064H2.18V0.064H-0.727Z M0.727,-0.3L1.027,0.22L0.427,0.22Z", "M-0.727,-0.064H2.18V0.064H-0.727Z M0.607,-0.33H0.847V-0.12H1.057V0.12H0.847V0.33H0.607V0.12H0.397V-0.12H0.607Z"]}, "legend": {"orient": "top-right", "offset": 8}}}}
 ]},
{"width": 302, "height": 182, "data": {"name": "c"}, "title": "(c) Insurance dataset",
 "encoding": {"x": {"field": "fair", "type": "quantitative", "title": "Fairness (Independence)", "scale": {"domain": [0.01982, 0.02802], "nice": false, "zero": false}, "axis": {"values": [0.02, 0.022, 0.024, 0.026, 0.028], "format": ".3f"}},
  "y": {"field": "err", "type": "quantitative", "title": "Mean squared error", "scale": {"domain": [0.0076, 0.03], "nice": false, "zero": false}, "axis": {"values": [0.01, 0.015, 0.02, 0.025, 0.03], "format": ".3f"}},
  "order": {"value": null}},
 "layer": [
  {"transform": [{"filter": "datum.method === 'Oracle'"}], "mark": {"type": "line", "color": "#f08080", "strokeWidth": 1.2, "point": {"filled": true, "shape": "circle", "size": 22, "color": "#f08080"}}},
  {"transform": [{"filter": "datum.method === 'Baseline'"}], "mark": {"type": "line", "color": "#ffa500", "strokeWidth": 1.2, "point": {"filled": true, "shape": "triangle-up", "size": 30, "color": "#ffa500"}}},
  {"transform": [{"filter": "datum.method === 'Bootstrap-5'"}], "mark": {"type": "line", "color": "#4169e1", "strokeWidth": 1.2, "point": {"filled": true, "shape": "cross", "size": 45, "color": "#4169e1"}}},
  {"data": {"name": "legend"}, "mark": {"type": "point", "filled": true, "opacity": 0, "size": 484},
   "encoding": {"x": {"value": 0}, "y": {"value": 0},
    "color": {"field": "method", "type": "nominal", "scale": {"domain": ["Oracle", "Baseline", "Bootstrap-5"], "range": ["#f08080", "#ffa500", "#4169e1"]}, "legend": {"orient": "top-right", "offset": 9}},
    "shape": {"field": "method", "type": "nominal", "scale": {"domain": ["Oracle", "Baseline", "Bootstrap-5"], "range": ["M-0.727,-0.064H2.18V0.064H-0.727Z M0.457,0A0.27,0.27 0 1,1 0.997,0A0.27,0.27 0 1,1 0.457,0Z", "M-0.727,-0.064H2.18V0.064H-0.727Z M0.727,-0.3L1.027,0.22L0.427,0.22Z", "M-0.727,-0.064H2.18V0.064H-0.727Z M0.607,-0.33H0.847V-0.12H1.057V0.12H0.847V0.33H0.607V0.12H0.397V-0.12H0.607Z"]}, "legend": {"orient": "top-right", "offset": 9}}}}
 ]}
], "spacing": 93, "bounds": "flush", "resolve": {"scale": {"color": "independent", "shape": "independent"}, "legend": {"color": "independent", "shape": "independent"}}},
{"hconcat": [
{"width": 316, "height": 185, "data": {"name": "d"}, "title": "(d) Adult dataset",
 "encoding": {"x": {"field": "fair", "type": "quantitative", "title": "Fairness (Separation)", "scale": {"domain": [0, 0.2087], "nice": false, "zero": false}, "axis": {"values": [0, 0.05, 0.1, 0.15, 0.2], "format": ".2f"}},
  "y": {"field": "err", "type": "quantitative", "title": "Error rate", "scale": {"domain": [0.1802, 0.2202], "nice": false, "zero": false}, "axis": {"values": [0.19, 0.2, 0.21, 0.22], "format": ".2f"}},
  "order": {"value": null}},
 "layer": [
  {"transform": [{"filter": "datum.method === 'Oracle'"}], "mark": {"type": "line", "color": "#f08080", "strokeWidth": 1.2, "point": {"filled": true, "shape": "circle", "size": 22, "color": "#f08080"}}},
  {"transform": [{"filter": "datum.method === 'Baseline'"}], "mark": {"type": "line", "color": "#ffa500", "strokeWidth": 1.2, "point": {"filled": true, "shape": "triangle-up", "size": 30, "color": "#ffa500"}}},
  {"transform": [{"filter": "datum.method === 'Bootstrap-5'"}], "mark": {"type": "line", "color": "#4169e1", "strokeWidth": 1.2, "point": {"filled": true, "shape": "cross", "size": 45, "color": "#4169e1"}}},
  {"data": {"name": "legend"}, "mark": {"type": "point", "filled": true, "opacity": 0, "size": 484},
   "encoding": {"x": {"value": 0}, "y": {"value": 0},
    "color": {"field": "method", "type": "nominal", "scale": {"domain": ["Oracle", "Baseline", "Bootstrap-5"], "range": ["#f08080", "#ffa500", "#4169e1"]}, "legend": {"orient": "top-right", "offset": 7}},
    "shape": {"field": "method", "type": "nominal", "scale": {"domain": ["Oracle", "Baseline", "Bootstrap-5"], "range": ["M-0.727,-0.064H2.18V0.064H-0.727Z M0.457,0A0.27,0.27 0 1,1 0.997,0A0.27,0.27 0 1,1 0.457,0Z", "M-0.727,-0.064H2.18V0.064H-0.727Z M0.727,-0.3L1.027,0.22L0.427,0.22Z", "M-0.727,-0.064H2.18V0.064H-0.727Z M0.607,-0.33H0.847V-0.12H1.057V0.12H0.847V0.33H0.607V0.12H0.397V-0.12H0.607Z"]}, "legend": {"orient": "top-right", "offset": 7}}}}
 ]},
{"width": 314, "height": 185, "data": {"name": "e"}, "title": "(e) Crime dataset",
 "encoding": {"x": {"field": "fair", "type": "quantitative", "title": "Fairness (Separation)", "scale": {"domain": [0.0494, 0.1508], "nice": false, "zero": false}, "axis": {"values": [0.06, 0.08, 0.1, 0.12, 0.14], "format": ".2f"}},
  "y": {"field": "err", "type": "quantitative", "title": "Mean squared error", "scale": {"domain": [0.026, 0.032], "nice": false, "zero": false}, "axis": {"values": [0.026, 0.028, 0.03, 0.032], "format": ".3f"}},
  "order": {"value": null}},
 "layer": [
  {"transform": [{"filter": "datum.method === 'Oracle'"}], "mark": {"type": "line", "color": "#f08080", "strokeWidth": 1.2, "point": {"filled": true, "shape": "circle", "size": 22, "color": "#f08080"}}},
  {"transform": [{"filter": "datum.method === 'Baseline'"}], "mark": {"type": "line", "color": "#ffa500", "strokeWidth": 1.2, "point": {"filled": true, "shape": "triangle-up", "size": 30, "color": "#ffa500"}}},
  {"transform": [{"filter": "datum.method === 'Bootstrap-5'"}], "mark": {"type": "line", "color": "#4169e1", "strokeWidth": 1.2, "point": {"filled": true, "shape": "cross", "size": 45, "color": "#4169e1"}}},
  {"data": {"name": "legend"}, "mark": {"type": "point", "filled": true, "opacity": 0, "size": 484},
   "encoding": {"x": {"value": 0}, "y": {"value": 0},
    "color": {"field": "method", "type": "nominal", "scale": {"domain": ["Oracle", "Baseline", "Bootstrap-5"], "range": ["#f08080", "#ffa500", "#4169e1"]}, "legend": {"orient": "top-right", "offset": 7}},
    "shape": {"field": "method", "type": "nominal", "scale": {"domain": ["Oracle", "Baseline", "Bootstrap-5"], "range": ["M-0.727,-0.064H2.18V0.064H-0.727Z M0.457,0A0.27,0.27 0 1,1 0.997,0A0.27,0.27 0 1,1 0.457,0Z", "M-0.727,-0.064H2.18V0.064H-0.727Z M0.727,-0.3L1.027,0.22L0.427,0.22Z", "M-0.727,-0.064H2.18V0.064H-0.727Z M0.607,-0.33H0.847V-0.12H1.057V0.12H0.847V0.33H0.607V0.12H0.397V-0.12H0.607Z"]}, "legend": {"orient": "top-right", "offset": 7}}}}
 ]},
{"width": 316, "height": 185, "data": {"name": "f"}, "title": "(f) Insurance dataset",
 "encoding": {"x": {"field": "fair", "type": "quantitative", "title": "Fairness (Separation)", "scale": {"domain": [0.024, 0.0284], "nice": false, "zero": false}, "axis": {"values": [0.024, 0.025, 0.026, 0.027, 0.028], "format": ".3f"}},
  "y": {"field": "err", "type": "quantitative", "title": "Mean squared error", "scale": {"domain": [0.0083, 0.03], "nice": false, "zero": false}, "axis": {"values": [0.01, 0.015, 0.02, 0.025, 0.03], "format": ".3f"}},
  "order": {"value": null}},
 "layer": [
  {"transform": [{"filter": "datum.method === 'Oracle'"}], "mark": {"type": "line", "color": "#f08080", "strokeWidth": 1.2, "point": {"filled": true, "shape": "circle", "size": 22, "color": "#f08080"}}},
  {"transform": [{"filter": "datum.method === 'Baseline'"}], "mark": {"type": "line", "color": "#ffa500", "strokeWidth": 1.2, "point": {"filled": true, "shape": "triangle-up", "size": 30, "color": "#ffa500"}}},
  {"transform": [{"filter": "datum.method === 'Bootstrap-5'"}], "mark": {"type": "line", "color": "#4169e1", "strokeWidth": 1.2, "point": {"filled": true, "shape": "cross", "size": 45, "color": "#4169e1"}}},
  {"data": {"name": "legend"}, "mark": {"type": "point", "filled": true, "opacity": 0, "size": 484},
   "encoding": {"x": {"value": 0}, "y": {"value": 0},
    "color": {"field": "method", "type": "nominal", "scale": {"domain": ["Oracle", "Baseline", "Bootstrap-5"], "range": ["#f08080", "#ffa500", "#4169e1"]}, "legend": {"orient": "top-left", "offset": 9}},
    "shape": {"field": "method", "type": "nominal", "scale": {"domain": ["Oracle", "Baseline", "Bootstrap-5"], "range": ["M-0.727,-0.064H2.18V0.064H-0.727Z M0.457,0A0.27,0.27 0 1,1 0.997,0A0.27,0.27 0 1,1 0.457,0Z", "M-0.727,-0.064H2.18V0.064H-0.727Z M0.727,-0.3L1.027,0.22L0.427,0.22Z", "M-0.727,-0.064H2.18V0.064H-0.727Z M0.607,-0.33H0.847V-0.12H1.057V0.12H0.847V0.33H0.607V0.12H0.397V-0.12H0.607Z"]}, "legend": {"orient": "top-left", "offset": 9}}}}
 ]}
], "spacing": 92, "bounds": "flush", "resolve": {"scale": {"color": "independent", "shape": "independent"}, "legend": {"color": "independent", "shape": "independent"}}}
]
}
